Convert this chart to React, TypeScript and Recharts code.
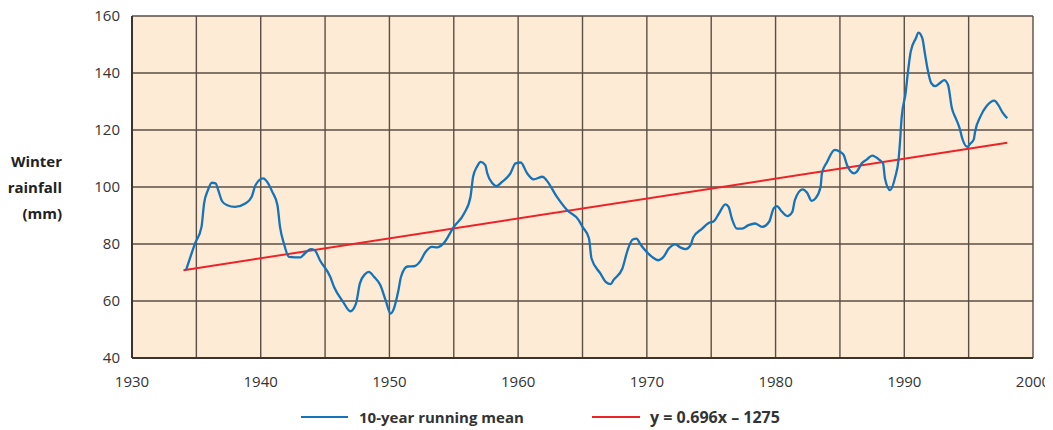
import { LineChart, Line, XAxis, YAxis, CartesianGrid } from 'recharts'

// 10-year running mean
const YEARS = [
  1934.2, 1934.9, 1935.4, 1935.6, 1935.9, 1936.2, 1936.5, 1936.7, 1937.0, 1937.4,
  1938.0, 1938.8, 1939.3, 1939.6, 1940.2, 1940.5, 1940.9, 1941.3, 1941.5, 1941.8,
  1942.2, 1943.1, 1943.3, 1943.9, 1944.2, 1944.6, 1945.4, 1945.7, 1946.4, 1946.96,
  1947.4, 1947.7, 1948.1, 1948.4, 1948.8, 1949.3, 1949.7, 1950.1, 1950.3, 1950.7,
  1950.9, 1951.4, 1951.9, 1952.4, 1952.8, 1953.3, 1953.7, 1954.2, 1955.0, 1955.8,
  1956.3, 1956.5, 1956.8, 1957.1, 1957.45, 1957.6, 1958.0, 1958.3, 1958.75, 1959.4,
  1959.8, 1960.2, 1960.7, 1961.2, 1961.9, 1962.2, 1963.0, 1963.8, 1964.7, 1965.0,
  1965.5, 1965.7, 1966.4, 1966.8, 1967.2, 1967.4, 1968.1, 1968.5, 1968.9, 1969.2,
  1969.5, 1969.75, 1970.4, 1970.9, 1971.3, 1971.7, 1972.2, 1972.6, 1973.0, 1973.4,
  1973.6, 1974.3, 1974.8, 1975.2, 1975.6, 1976.1, 1976.35, 1976.6, 1977.0, 1977.4,
  1977.9, 1978.4, 1978.95, 1979.5, 1979.85, 1980.1, 1980.5, 1980.9, 1981.3, 1981.5,
  1982.1, 1982.45, 1982.8, 1983.1, 1983.5, 1983.6, 1984.0, 1984.6, 1985.0, 1985.3,
  1985.55, 1986.1, 1986.3, 1986.7, 1987.1, 1987.5, 1988.1, 1988.35, 1988.5, 1988.9,
  1989.3, 1989.55, 1989.65, 1989.8, 1990.1, 1990.3, 1990.5, 1990.9, 1991.1, 1991.4,
  1991.6, 1991.8, 1992.1, 1992.4, 1992.8, 1993.1, 1993.4, 1993.7, 1994.0, 1994.3,
  1994.5, 1994.9, 1995.1, 1995.4, 1995.5, 1995.9, 1996.4, 1997.0, 1997.3, 1997.6,
  1998.0,
]
const RAINFALL = [
  70.8, 80.2, 86, 94.2, 98.9, 101.5, 101.3, 98.9, 95, 93.6,
  93, 94.2, 96.6, 100.7, 103, 101.8, 98.3, 93.6, 86, 80.2,
  75.5, 75.3, 76.1, 78.2, 77.8, 74.3, 68.5, 64.9, 59.7, 56.4,
  59.1, 66.1, 69.4, 70.2, 68.5, 65.5, 60.3, 55.6, 56.8, 63.8,
  68.5, 72.1, 72.2, 74, 77.2, 79, 78.8, 80.2, 86, 90.7,
  96.6, 103.6, 107.1, 108.8, 107.7, 104.8, 101.3, 100.3, 101.8, 104.8,
  108.3, 108.6, 104.8, 102.7, 103.6, 102.4, 96.6, 91.9, 88.4, 86,
  82, 74.9, 69.6, 66.7, 65.9, 67.3, 71.4, 77.8, 81.6, 81.9,
  79.9, 78.4, 75.5, 74.3, 75.5, 78.4, 79.9, 78.8, 78.2, 79.6,
  82.3, 85.4, 87.4, 88, 90.7, 93.9, 93, 89, 85.4, 85.4,
  86.6, 87.2, 86, 87.8, 92.5, 93.3, 91.3, 89.8, 91.3, 95.4,
  99.2, 98, 95.1, 96, 100.1, 104.8, 108.8, 113, 112.4, 111.2,
  107.7, 104.8, 105.3, 108.3, 109.7, 111, 109.4, 108.3, 103, 98.9,
  103.6, 109.4, 114.7, 124.6, 132.9, 141, 147.5, 152.2, 154.2, 152.2,
  146.9, 141.6, 136.4, 135.4, 136.6, 137.5, 135.8, 127.6, 124.1, 120.6,
  117.1, 114.1, 115.1, 116.7, 119.4, 124.6, 128.4, 130.3, 128.8, 126.4,
  124.1,
]

// linear trend y = 0.696x - 1275, end points as drawn
const TREND_YEARS = [1934, 1998]
const TREND_VALUES = [70.8, 115.5]

const X_TICKS = [1930, 1935, 1940, 1945, 1950, 1955, 1960, 1965, 1970, 1975, 1980, 1985, 1990, 1995, 2000]
const Y_TICKS = [40, 60, 80, 100, 120, 140, 160]

const mean = YEARS.map((year, i) => ({ year, value: RAINFALL[i] }))
const trend = TREND_YEARS.map((year, i) => ({ year, value: TREND_VALUES[i] }))

const FONT = '"Open Sans", "Noto Sans", sans-serif'
const BLUE = '#1473b9'
const RED = '#ec2327'

export default function App() {
  return (
    <div style={{ position: 'relative', width: 1053, height: 430, margin: '-8px 0 0 -8px', fontFamily: FONT, background: '#fff' }}>
      <LineChart width={1053} height={430} data={mean} margin={{ top: 16, right: 20, bottom: 42, left: 0 }}>
        <CartesianGrid
          fill="#fdebd6"
          stroke="#5b4e44"
          strokeWidth={1.4}
          horizontalValues={Y_TICKS}
          verticalValues={X_TICKS}
        />
        <XAxis
          dataKey="year"
          type="number"
          domain={[1930, 2000]}
          ticks={X_TICKS}
          interval={0}
          height={30}
          tickLine={false}
          tickMargin={12}
          axisLine={{ stroke: '#3a332e', strokeWidth: 2 }}
          tickFormatter={v => (v % 10 === 0 ? String(v) : '')}
          tick={{ fontSize: 15, fill: '#333', fontFamily: FONT }}
        />
        <YAxis
          type="number"
          domain={[40, 160]}
          ticks={Y_TICKS}
          interval={0}
          width={132}
          tickLine={false}
          tickMargin={6}
          axisLine={{ stroke: '#3a332e', strokeWidth: 2 }}
          tick={{ fontSize: 15, fill: '#333', fontFamily: FONT }}
        />
        <Line
          data={trend}
          dataKey="value"
          type="linear"
          stroke={RED}
          strokeWidth={2}
          dot={false}
          isAnimationActive={false}
        />
        <Line
          dataKey="value"
          type="monotone"
          stroke={BLUE}
          strokeWidth={2.3}
          dot={false}
          isAnimationActive={false}
        />
      </LineChart>

      <div style={{ position: 'absolute', right: 1053 - 62, top: 148, textAlign: 'right', fontWeight: 700, fontSize: 15, color: '#222', lineHeight: '26px', whiteSpace: 'nowrap' }}>
        Winter<br />rainfall<br />(mm)
      </div>

      <div style={{ position: 'absolute', left: 301, top: 407, display: 'flex', alignItems: 'center', fontWeight: 700, fontSize: 15, color: '#333', whiteSpace: 'nowrap' }}>
        <span style={{ display: 'inline-block', width: 47, height: 2, background: BLUE, marginRight: 11 }} />
        10-year running mean
      </div>
      <div style={{ position: 'absolute', left: 592, top: 406, display: 'flex', alignItems: 'center', fontWeight: 700, fontSize: 16, color: '#333', whiteSpace: 'nowrap' }}>
        <span style={{ display: 'inline-block', width: 48, height: 2, background: RED, marginRight: 10 }} />
        y = 0.696x – 1275
      </div>
    </div>
  )
}
